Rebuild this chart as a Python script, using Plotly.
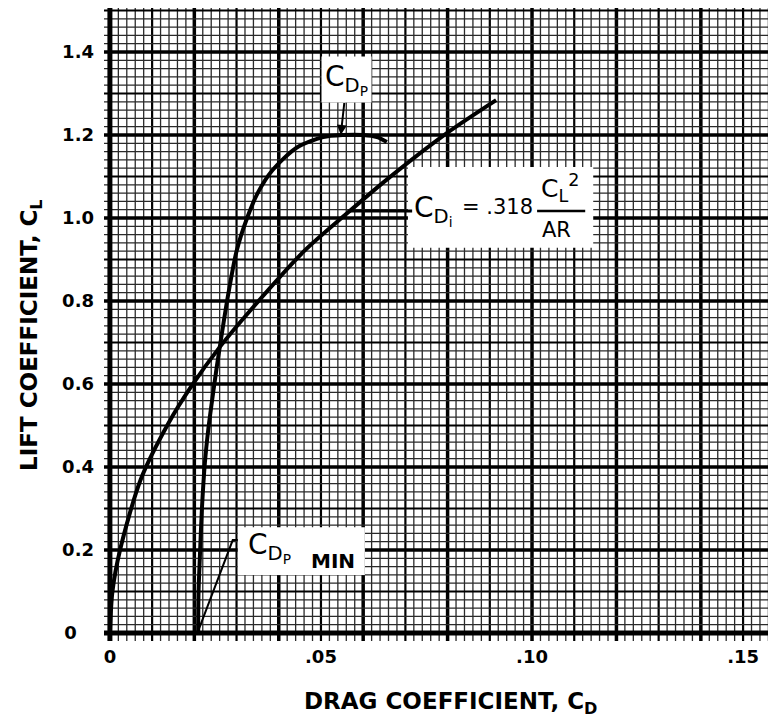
import numpy as np
import plotly.graph_objects as go

# profile drag curve, C_Dp
cdp_cd = [0.0209, 0.0210, 0.0213, 0.0218, 0.0225, 0.0233, 0.0242, 0.0253, 0.0265,
          0.0281, 0.0300, 0.0325, 0.0350, 0.0385, 0.0443, 0.0505, 0.0552, 0.0600,
          0.0633, 0.0656]
cdp_cl = [0.0, 0.10, 0.18, 0.30, 0.41, 0.49, 0.56, 0.64, 0.72,
          0.82, 0.92, 1.00, 1.06, 1.115, 1.17, 1.195, 1.20, 1.20,
          1.195, 1.183]

# induced drag curve, C_Di
cdi_cd = [0.0, 0.0006, 0.0024, 0.0073, 0.0139, 0.0192, 0.0261, 0.0329, 0.0460,
          0.0557, 0.0653, 0.0799, 0.0915]
cdi_cl = [0.0, 0.10, 0.20, 0.37, 0.506, 0.593, 0.69, 0.773, 0.92,
          1.007, 1.09, 1.205, 1.284]

x_ticks = [0, 0.05, 0.10, 0.15]
x_ticktext = ["0", ".05", ".10", ".15"]
y_ticks = [0, 0.2, 0.4, 0.6, 0.8, 1.0, 1.2, 1.4]
y_ticktext = ["0", "0.2", "0.4", "0.6", "0.8", "1.0", "1.2", "1.4"]

FONT = "DejaVu Sans"
XR = [-0.0014, 0.1578]
YR = [-0.0193, 1.506]

fig = go.Figure()

for xs, ys in [(cdp_cd, cdp_cl), (cdi_cd, cdi_cl)]:
    fig.add_trace(go.Scatter(x=xs, y=ys, mode="lines",
                             line=dict(color="black", width=4, shape="spline", smoothing=0.8),
                             showlegend=False, hoverinfo="skip"))

# graph paper
shapes = []
for i, v in enumerate(np.arange(0, 0.16, 0.002)):
    if i % 10 == 0:
        w, c = 3.5, "black"
    elif i % 5 == 0:
        w, c = 2.2, "black"
    else:
        w, c = 1.3, "#2a2a2a"
    shapes.append(dict(type="line", xref="x", yref="paper", x0=v, x1=v, y0=0, y1=1,
                       line=dict(color=c, width=w), layer="below"))
for i, v in enumerate(np.arange(0, 1.52, 0.02)):
    if i % 10 == 0:
        w, c = 3.5, "black"
    elif i % 5 == 0:
        w, c = 2.2, "black"
    else:
        w, c = 1.3, "#2a2a2a"
    shapes.append(dict(type="line", xref="paper", yref="y", x0=0, x1=1, y0=v, y1=v,
                       line=dict(color=c, width=w), layer="below"))
# heavy axis lines
shapes.append(dict(type="line", xref="x", yref="paper", x0=0, x1=0, y0=0, y1=1,
                   line=dict(color="black", width=5), layer="below"))
shapes.append(dict(type="line", xref="paper", yref="y", x0=0, x1=1, y0=0, y1=0,
                   line=dict(color="black", width=5), layer="below"))
# white label boxes
shapes.append(dict(type="rect", xref="x", yref="y", x0=0.0706, x1=0.1145, y0=0.928, y1=1.123,
                   fillcolor="white", line=dict(width=0), layer="below"))
shapes.append(dict(type="rect", xref="x", yref="y", x0=0.0303, x1=0.0604, y0=0.140, y1=0.255,
                   fillcolor="white", line=dict(width=0), layer="below"))
# fraction bar
shapes.append(dict(type="line", xref="x", yref="y", x0=0.1012, x1=0.1126, y0=1.017, y1=1.017,
                   line=dict(color="black", width=2.5)))
# C_Dp min leader
shapes.append(dict(type="path", xref="x", yref="y",
                   path="M 0.0211 0.01 L 0.0291 0.224 L 0.0303 0.224",
                   line=dict(color="black", width=2)))
fig.update_layout(shapes=shapes)

lab = dict(family=FONT, size=28, color="black")
fig.add_annotation(x=0.0568, y=1.017, ax=0.0716, ay=1.017, axref="x", ayref="y",
                   text="C<sub>D<sub>i</sub></sub>", xanchor="left",
                   showarrow=True, arrowhead=0, arrowwidth=3, arrowcolor="black", font=lab)
fig.add_annotation(x=0.0919, y=1.026, text="= .318", showarrow=False,
                   font=dict(family=FONT, size=21, color="black"))
fig.add_annotation(x=0.1066, y=1.072, text="C<sub>L</sub><sup>2</sup>", showarrow=False,
                   font=dict(family=FONT, size=25, color="black"))
fig.add_annotation(x=0.1059, y=0.971, text="AR", showarrow=False,
                   font=dict(family=FONT, size=21, color="black"))

fig.add_annotation(x=0.0547, y=1.20, ax=6, ay=-55,
                   text="C<sub>D<sub>P</sub></sub>",
                   showarrow=True, arrowhead=2, arrowsize=1, arrowwidth=2, arrowcolor="black",
                   bgcolor="white", borderpad=3, font=lab)
fig.add_annotation(x=0.0323, y=0.205, xanchor="left", showarrow=False,
                   text="C<sub>D<sub>P</sub></sub>", font=lab)
fig.add_annotation(x=0.0528, y=0.173, showarrow=False, text="<b>MIN</b>",
                   font=dict(family=FONT, size=20, color="black"))

# axis titles
fig.add_annotation(xref="paper", yref="paper", x=0.515, y=-0.098,
                   xanchor="center", yanchor="middle", showarrow=False,
                   text="<b>DRAG COEFFICIENT, C<sub>D</sub></b>",
                   font=dict(family=FONT, size=23, color="black"))
fig.add_annotation(xref="paper", yref="paper", x=-0.1086, y=0.482,
                   xanchor="center", yanchor="middle", showarrow=False,
                   textangle=-90, text="<b>LIFT COEFFICIENT, C<sub>L</sub></b>",
                   font=dict(family=FONT, size=23, color="black"))

y_labels = ["<b>%s</b>" % t for t in y_ticktext]
y_labels[0] = "<b>0</b>\u00a0\u00a0\u00a0"

fig.update_xaxes(range=XR, showgrid=False, zeroline=False, showline=False, automargin=False,
                 tickvals=x_ticks, ticktext=["<b>%s</b>" % t for t in x_ticktext],
                 ticks="", ticklabelstandoff=3,
                 tickfont=dict(family=FONT, size=18, color="black"))
fig.update_yaxes(range=YR, showgrid=False, zeroline=False, showline=False, automargin=False,
                 tickvals=y_ticks, ticktext=y_labels,
                 ticks="", ticklabelstandoff=9,
                 tickfont=dict(family=FONT, size=18, color="black"))

# the page body adds 8px on the top and left, so the figure is 8px smaller
fig.update_layout(width=768, height=717, margin=dict(l=96, r=0, t=0, b=84),
                  plot_bgcolor="white", paper_bgcolor="white")

fig.write_html("out.html")
